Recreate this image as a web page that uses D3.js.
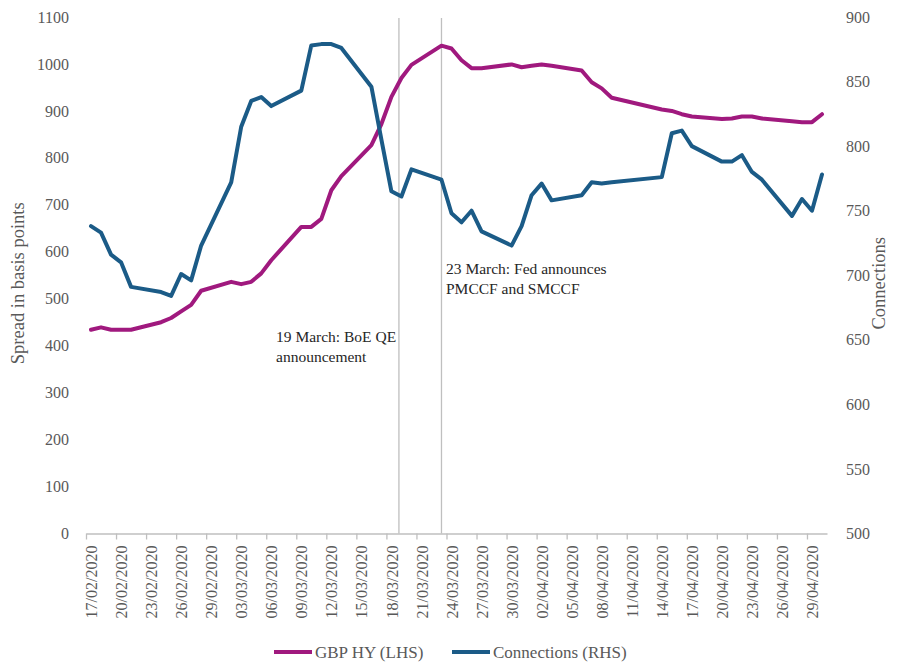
<!DOCTYPE html>
<html>
<head>
<meta charset="utf-8">
<script src="https://cdn.jsdelivr.net/npm/d3@7"></script>
<style>
  body { margin: 0; background: #ffffff; }
  svg text { font-family: "Liberation Serif", "Times New Roman", serif; }
</style>
</head>
<body>
<svg id="chart" width="897" height="663"></svg>
<script>
// Trading days, GBP high-yield spread (bp) and connection counts
const dates = [
  "2020-02-17","2020-02-18","2020-02-19","2020-02-20","2020-02-21",
  "2020-02-24","2020-02-25","2020-02-26","2020-02-27","2020-02-28",
  "2020-03-02","2020-03-03","2020-03-04","2020-03-05","2020-03-06",
  "2020-03-09","2020-03-10","2020-03-11","2020-03-12","2020-03-13",
  "2020-03-16","2020-03-17","2020-03-18","2020-03-19","2020-03-20",
  "2020-03-23","2020-03-24","2020-03-25","2020-03-26","2020-03-27",
  "2020-03-30","2020-03-31","2020-04-01","2020-04-02","2020-04-03",
  "2020-04-06","2020-04-07","2020-04-08","2020-04-09",
  "2020-04-14","2020-04-15","2020-04-16","2020-04-17",
  "2020-04-20","2020-04-21","2020-04-22","2020-04-23","2020-04-24",
  "2020-04-27","2020-04-28","2020-04-29","2020-04-30"
];
const gbpHY = [
  434, 439, 434, 434, 434,
  450, 459, 473, 487, 517,
  536, 531, 536, 554, 582,
  653, 653, 670, 731, 761,
  827, 872, 930, 970, 998,
  1039, 1033, 1008, 991, 991,
  999, 993, 996, 999, 996,
  986, 961, 948, 928,
  903, 900, 893, 888,
  883, 884, 888, 888, 884,
  878, 876, 876, 893
];
const connections = [
  738, 733, 716, 710, 691,
  687, 684, 701, 696, 723,
  772, 815, 835, 838, 831,
  843, 878, 879, 879, 876,
  846, 805, 765, 761, 782,
  774, 748, 741, 750, 734,
  723, 738, 762, 771, 758,
  762, 772, 771, 772,
  776, 810, 812, 800,
  788, 788, 793, 780, 774,
  746, 759, 750, 778
];
const leftTicks = [0, 100, 200, 300, 400, 500, 600, 700, 800, 900, 1000, 1100];
const rightTicks = [500, 550, 600, 650, 700, 750, 800, 850, 900];
const axisStart = "2020-02-17";
const axisEnd = "2020-05-01";
const eventDates = ["2020-03-19T06:00", "2020-03-23T12:00"];
const eventLabels = [
  ["19 March: BoE QE", "announcement"],
  ["23 March: Fed announces", "PMCCF and SMCCF"]
];
const seriesNames = ["GBP HY (LHS)", "Connections (RHS)"];

const magenta = "#A0197E";
const navy = "#1B5B87";
const grey = "#595959";
const axisGrey = "#BFBFBF";

const parseDay = d3.utcParse("%Y-%m-%d");
const parseTime = d3.utcParse("%Y-%m-%dT%H:%M");
const fmt = d3.utcFormat("%d/%m/%Y");

const svg = d3.select("#chart");
const plotL = 86, plotR = 827, plotT = 17, plotB = 533.5;

const x = d3.scaleUtc()
  .domain([parseDay(axisStart), parseDay(axisEnd)])
  .range([plotL, plotR]);
const yL = d3.scaleLinear().domain([0, 1100]).range([plotB, plotT]);
const yR = d3.scaleLinear().domain([500, 900]).range([plotB, plotT]);

// each day occupies one slot; points sit in the middle of their slot
const mid = d => d3.utcHour.offset(d, 12);
const rows = dates.map((s, i) => ({ d: parseDay(s), hy: gbpHY[i], conn: connections[i] }));

// x axis: tick marks every third day at slot boundaries
const firstDay = parseDay(axisStart);
const tickDays = d3.range(0, 25).map(k => d3.utcDay.offset(firstDay, 3 * k));

const xAxis = svg.append("g").attr("transform", `translate(0,${plotB})`)
  .call(d3.axisBottom(x).tickValues(tickDays).tickSizeInner(6).tickSizeOuter(0).tickFormat(""));
xAxis.select(".domain").attr("stroke", axisGrey).attr("stroke-width", 1.3);
xAxis.selectAll(".tick line").attr("stroke", axisGrey).attr("stroke-width", 1.3);

// date labels centred in their day slot, rotated
const xLabels = svg.append("g").attr("transform", `translate(0,${plotB})`)
  .call(d3.axisBottom(x).tickValues(tickDays.map(mid)).tickSize(0).tickFormat(fmt));
xLabels.select(".domain").remove();
xLabels.selectAll(".tick text")
  .attr("transform", "rotate(-90)")
  .attr("text-anchor", "end")
  .attr("x", -12).attr("y", 0).attr("dy", "0.35em")
  .attr("fill", grey)
  .style("font-size", "16px");

// left axis
const yAxisL = svg.append("g").attr("transform", `translate(${plotL},0)`)
  .call(d3.axisLeft(yL).tickValues(leftTicks).tickFormat(d3.format("d")).tickSize(0).tickPadding(17));
yAxisL.select(".domain").remove();
yAxisL.selectAll(".tick text").attr("fill", grey).style("font-size", "16px");

// right axis
const yAxisR = svg.append("g").attr("transform", `translate(${plotR},0)`)
  .call(d3.axisRight(yR).tickValues(rightTicks).tickFormat(d3.format("d")).tickSize(0).tickPadding(19));
yAxisR.select(".domain").remove();
yAxisR.selectAll(".tick text").attr("fill", grey).style("font-size", "16px");

// axis titles
svg.append("text")
  .attr("transform", `translate(24,${(plotT + plotB) / 2 + 8}) rotate(-90)`)
  .attr("text-anchor", "middle")
  .attr("fill", grey).style("font-size", "18.5px")
  .text("Spread in basis points");
svg.append("text")
  .attr("transform", `translate(885,${(plotT + plotB) / 2 + 8}) rotate(-90)`)
  .attr("text-anchor", "middle")
  .attr("fill", grey).style("font-size", "18.5px")
  .text("Connections");

// event markers
eventDates.forEach(s => {
  const ex = x(parseTime(s));
  svg.append("line")
    .attr("x1", ex).attr("x2", ex)
    .attr("y1", plotT + 1).attr("y2", plotB)
    .attr("stroke", axisGrey).attr("stroke-width", 1.3);
});
const annot = [
  { x: 276, y: 342 },
  { x: 446, y: 274 }
];
eventLabels.forEach((lines, i) => {
  const t = svg.append("text")
    .attr("x", annot[i].x).attr("y", annot[i].y)
    .attr("fill", "#262626").style("font-size", "15.5px");
  lines.forEach((ln, j) => {
    t.append("tspan").attr("x", annot[i].x).attr("dy", j === 0 ? 0 : 19.5).text(ln);
  });
});

// series lines
const lineHY = d3.line().x(r => x(mid(r.d))).y(r => yL(r.hy));
const lineConn = d3.line().x(r => x(mid(r.d))).y(r => yR(r.conn));

svg.append("path").datum(rows)
  .attr("d", lineHY).attr("fill", "none")
  .attr("stroke", magenta).attr("stroke-width", 4)
  .attr("stroke-linejoin", "round").attr("stroke-linecap", "round");
svg.append("path").datum(rows)
  .attr("d", lineConn).attr("fill", "none")
  .attr("stroke", navy).attr("stroke-width", 4)
  .attr("stroke-linejoin", "round").attr("stroke-linecap", "round");

// legend
const legend = [
  { name: seriesNames[0], color: magenta, x: 274 },
  { name: seriesNames[1], color: navy, x: 452 }
];
legend.forEach(l => {
  svg.append("line")
    .attr("x1", l.x).attr("x2", l.x + 38)
    .attr("y1", 652).attr("y2", 652)
    .attr("stroke", l.color).attr("stroke-width", 4);
  svg.append("text")
    .attr("x", l.x + 41).attr("y", 657.5)
    .attr("fill", grey).style("font-size", "17px")
    .text(l.name);
});
</script>
</body>
</html>
